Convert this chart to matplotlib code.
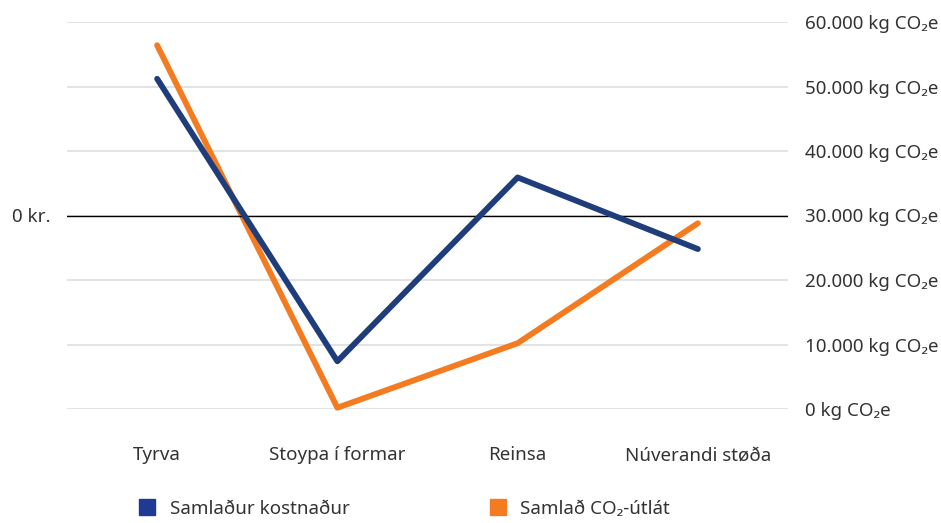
import matplotlib.pyplot as plt
from matplotlib.lines import Line2D

plt.rcParams['font.family'] = ['Noto Sans', 'DejaVu Sans']

categories = ["Tyrva", "Stoypa í formar", "Reinsa", "Núverandi støða"]
# cost in million kr (only the zero level is labelled in the original)
cost = [2.12, -2.26, 0.59, -0.52]
# accumulated CO2 emissions, kg CO2e
co2 = [56400, 200, 10200, 28800]
co2_ticks = [0, 10000, 20000, 30000, 40000, 50000, 60000]
co2_labels = ["0 kg CO₂e", "10.000 kg CO₂e", "20.000 kg CO₂e", "30.000 kg CO₂e",
              "40.000 kg CO₂e", "50.000 kg CO₂e", "60.000 kg CO₂e"]

blue = "#1f3d7a"
orange = "#f47b20"
txt = "#333333"
fs = 13.5

fig = plt.figure(figsize=(9.41, 5.23), dpi=100)
ax = fig.add_axes([67/941, 1-409/523, 721/941, 387/523])
ax2 = ax.twinx()

x = range(len(categories))

# right axis: CO2
ax2.set_ylim(0, 60000)
ax2.set_yticks(co2_ticks)
ax2.set_yticklabels(co2_labels, fontsize=fs, color=txt)
ax2.grid(axis='y', color="#e0e0e0", linewidth=1.3)
ax2.tick_params(axis='y', length=0, pad=12)

# left axis: cost, zero aligned with 30.000
ax.set_ylim(-3.0, 3.0)
ax.set_yticks([0])
ax.set_yticklabels(["0 kr."], fontsize=fs, color=txt)
ax.tick_params(axis='y', length=0, pad=12)
ax.set_xlim(-0.5, 3.5)
ax.set_xticks(list(x))
ax.set_xticklabels(categories, fontsize=fs, color=txt)
ax.tick_params(axis='x', length=0, pad=27)

ax2.plot(x, co2, color=orange, linewidth=4.2, solid_capstyle='round', clip_on=False, zorder=3)
ax.axhline(0, color="black", linewidth=1.0, zorder=2)
ax.plot(x, cost, color=blue, linewidth=4.2, solid_capstyle='round', clip_on=False, zorder=3)

# blue line drawn on top of orange
ax.set_zorder(ax2.get_zorder() + 1)
ax.patch.set_visible(False)

for a in (ax, ax2):
    for s in a.spines.values():
        s.set_visible(False)

handles = [Line2D([], [], marker='s', linestyle='none', markersize=11, color="#1f3a93"),
           Line2D([], [], marker='s', linestyle='none', markersize=11, color=orange)]
fig.legend(handles, ["Samlaður kostnaður", "Samlað CO₂-útlát"], loc='center left',
           bbox_to_anchor=(138/941, 1-509/523), ncol=2, frameon=False, fontsize=fs,
           handletextpad=0.7, columnspacing=7.4, borderaxespad=0, borderpad=0,
           handlelength=1.0, labelcolor=txt)

fig.savefig("out.png", dpi=100)
